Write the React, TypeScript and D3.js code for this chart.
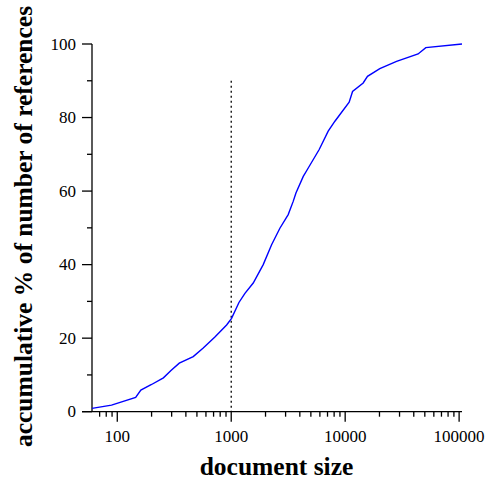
import React from "react";
import * as d3 from "d3";

const sizes = [60, 89, 145, 161, 200, 254, 296, 350, 464, 568, 719, 911, 1007, 1169, 1319, 1560, 1909, 2261, 2673, 3162, 3499, 3698, 4288, 4644, 5916, 7096, 8128, 10840, 11610, 14390, 15700, 20140, 28250, 43650, 51000, 106000];
const percents = [0.9, 1.8, 3.9, 5.9, 7.4, 9.2, 11.2, 13.2, 15.0, 17.3, 20.3, 23.6, 25.4, 29.7, 32.2, 35.0, 40.0, 45.4, 49.9, 53.6, 57.2, 59.5, 64.0, 65.8, 71.3, 76.3, 79.0, 84.2, 87.1, 89.4, 91.2, 93.3, 95.3, 97.3, 99.0, 100.0];

const xMajorTicks = [100, 1000, 10000, 100000];
const xTickLabels = ["100", "1000", "10000", "100000"];
const yMajorTicks = [0, 20, 40, 60, 80, 100];
const yMinorTicks = [10, 30, 50, 70, 90];
const markerSize = 1000;
const markerTop = 90;

const xDomain = [60, 106000];
const yDomain = [0, 100];

export default function App() {
  const W = 490, H = 480;
  const left = 92, right = 462, top = 44, bottom = 411.7;
  const x = d3.scaleLog().domain(xDomain).range([left, right]);
  const y = d3.scaleLinear().domain(yDomain).range([bottom, top]);

  const xMinor: number[] = [];
  for (let dec = 10; dec <= 100000; dec *= 10) {
    for (let m = 2; m <= 9; m++) {
      const v = m * dec;
      if (v > xDomain[0] && v < xDomain[1]) xMinor.push(v);
    }
  }

  const line = d3.line<number>()
    .x((_, i) => x(sizes[i]))
    .y((d) => y(d));

  const font = "'Liberation Serif', 'Times New Roman', serif";

  return (
    <svg width={W} height={H} style={{ position: "absolute", left: 0, top: 0 }} fontFamily={font}>
      <rect width={W} height={H} fill="#fff" />
      <line x1={left} x2={left} y1={top} y2={bottom} stroke="#000" strokeWidth={1.3} />
      <line x1={left - 10} x2={right} y1={bottom} y2={bottom} stroke="#000" strokeWidth={1.3} />
      {yMajorTicks.map((t) => (
        <g key={"ym" + t}>
          <line x1={left - 10} x2={left} y1={y(t)} y2={y(t)} stroke="#000" strokeWidth={1.3} />
          <text x={left - 16} y={y(t)} dy="0.34em" textAnchor="end" fontSize={17}>{t}</text>
        </g>
      ))}
      {yMinorTicks.map((t) => (
        <line key={"yn" + t} x1={left - 5} x2={left} y1={y(t)} y2={y(t)} stroke="#000" strokeWidth={1.3} />
      ))}
      {xMajorTicks.map((t, i) => (
        <g key={"xm" + t}>
          <line x1={x(t)} x2={x(t)} y1={bottom} y2={bottom + 10} stroke="#000" strokeWidth={1.3} />
          <text x={x(t)} y={bottom + 30} textAnchor="middle" fontSize={17}>{xTickLabels[i]}</text>
        </g>
      ))}
      {xMinor.map((t) => (
        <line key={"xn" + t} x1={x(t)} x2={x(t)} y1={bottom} y2={bottom + 5} stroke="#000" strokeWidth={1.3} />
      ))}
      <line x1={x(markerSize)} x2={x(markerSize)} y1={y(markerTop)} y2={y(0)} stroke="#000" strokeWidth={1.3} strokeDasharray="2,3" />
      <path d={line(percents) || ""} fill="none" stroke="#0000ff" strokeWidth={1.4} />
      <text x={276.5} y={475} textAnchor="middle" fontSize={25.5} fontWeight="bold">document size</text>
      <text transform={`translate(32, 226.5) rotate(-90)`} textAnchor="middle" fontSize={25.5} fontWeight="bold">accumulative % of number of references</text>
    </svg>
  );
}
